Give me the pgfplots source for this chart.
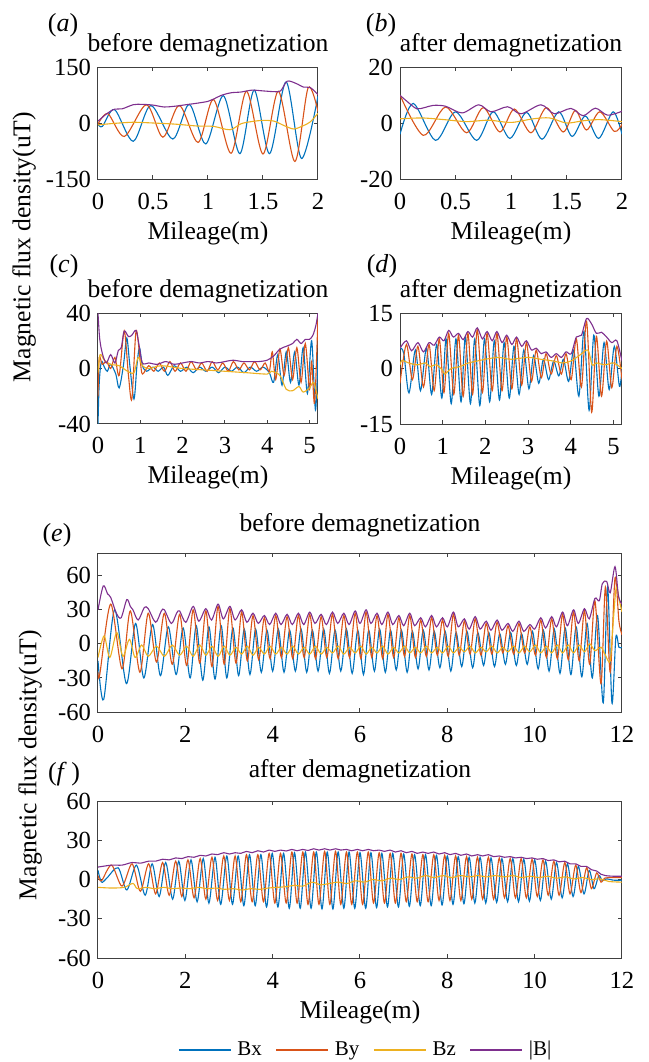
\documentclass[border=0pt]{standalone}
\usepackage{fontspec}
\setmainfont{Liberation Serif}
\usepackage{pgfplots}
\pgfplotsset{compat=1.18}
\definecolor{cBx}{rgb}{0,0.447,0.741}
\definecolor{cBy}{rgb}{0.85,0.325,0.098}
\definecolor{cBz}{rgb}{0.929,0.694,0.125}
\definecolor{cB}{rgb}{0.494,0.184,0.556}
\pgfplotsset{
  panel/.style={
    scale only axis,
    axis line style={black!75, line width=0.5pt},
    every tick/.style={black!75, line width=0.5pt},
    tick align=inside,
    major tick length=2pt,
    enlargelimits=false,
    /pgf/number format/assume math mode=true,
    tick label style={font=\fontsize{12.3}{14}\selectfont},
    xticklabel style={anchor=base, yshift=-15pt},
    xlabel style={font=\fontsize{12.8}{15}\selectfont, at={(0.5,0)}, anchor=base, yshift=-30pt},
    title style={font=\fontsize{12.8}{15}\selectfont, at={(0.5,1)}, anchor=base, yshift=2pt, inner sep=0pt},
    xlabel={Mileage(m)},
    every axis plot/.append style={smooth, line width=0.55pt, no markers},
  },
}
\begin{document}
\begin{tikzpicture}
\useasboundingbox (0,0) rectangle (324.5pt,-531pt);
\tikzset{lab/.style={font=\fontsize{13}{15}\selectfont, inner sep=0pt}}
\node[lab] at (31.5pt,-12.5pt) {(\textit{a})};
\node[lab] at (190.5pt,-12.5pt) {(\textit{b})};
\node[lab] at (32pt,-133pt) {(\textit{c})};
\node[lab] at (191pt,-133pt) {(\textit{d})};
\node[lab] at (28.5pt,-267.5pt) {(\textit{e})};
\node[lab] at (32pt,-387pt) {(\textit{f}\,)};
\node[rotate=90, font=\fontsize{12.8}{15}\selectfont, inner sep=0pt] at (12pt,-123.5pt) {Magnetic flux density(uT)};
\node[rotate=90, font=\fontsize{12.8}{15}\selectfont, inner sep=0pt] at (15pt,-382.5pt) {Magnetic flux density(uT)};

% ---------------- (a)
\begin{axis}[panel, at={(49pt,-33.5pt)}, anchor=north west, width=110pt, height=56pt,
  xmin=0, xmax=2, ymin=-150, ymax=150, xtick={0,0.5,1,1.5,2}, ytick={-150,0,150},
  title={before demagnetization}]
\addplot[cBx] coordinates {(0,-3) (0.04,-9) (0.15,36) (0.32,-49) (0.48,47) (0.68,-43) (0.83,50) (0.98,-56) (1.14,73) (1.29,-82) (1.42,88) (1.56,-82) (1.71,110) (1.85,-95) (2.0,72)};
\addplot[cBy] coordinates {(0,-3) (0.09,25) (0.24,-36) (0.44,49) (0.59,-38) (0.74,47) (0.91,-52) (1.05,63) (1.21,-81) (1.35,85) (1.5,-83) (1.64,85) (1.79,-103) (1.91,94) (2.0,31)};
\addplot[cBz] coordinates {(0,-5) (0.15,-1) (0.32,2) (0.5,0) (0.7,-3) (0.9,-8) (1.05,-9) (1.2,-18) (1.3,-2) (1.4,4) (1.5,7) (1.6,5) (1.7,-8) (1.78,-16) (1.86,-8) (1.93,3) (2.0,26)};
\addplot[cB] coordinates {(0,5) (0.08,25) (0.15,37) (0.22,38) (0.32,49) (0.4,50) (0.5,48) (0.6,43) (0.7,45) (0.8,49) (0.9,53) (1.0,58) (1.05,64) (1.12,74) (1.21,81) (1.3,83) (1.4,88) (1.5,86) (1.6,84) (1.66,86) (1.72,112) (1.8,106) (1.87,96) (1.93,95) (2.0,76)};
\end{axis}

% ---------------- (b)
\begin{axis}[panel, at={(200pt,-33.5pt)}, anchor=north west, width=111pt, height=56pt,
  xmin=0, xmax=2, ymin=-20, ymax=20, xtick={0,0.5,1,1.5,2}, ytick={-20,0,20},
  title={after demagnetization}]
\addplot[cBx] coordinates {(0,-4) (0.12,7) (0.32,-6.2) (0.5,4) (0.69,-6.2) (0.84,4) (0.99,-5.5) (1.14,3.8) (1.28,-5.8) (1.43,4) (1.55,-4.8) (1.67,2.5) (1.79,-5.5) (1.92,4) (2.0,-4)};
\addplot[cBy] coordinates {(0,10) (0.21,-4.4) (0.41,5.7) (0.6,-3.5) (0.75,5.5) (0.9,-3.2) (1.03,5) (1.18,-3.5) (1.32,5.5) (1.47,-3.2) (1.58,4.5) (1.68,-2.5) (1.8,4) (1.93,-3) (2.0,-0.5)};
\addplot[cBz] coordinates {(0,1.5) (0.2,1.8) (0.4,1.2) (0.6,0.5) (0.8,1) (1.0,0.2) (1.2,1.5) (1.35,1.8) (1.5,0) (1.65,0.8) (1.8,1.2) (2.0,0.5)};
\addplot[cB] coordinates {(0,9.9) (0.07,7.5) (0.15,5.1) (0.22,5.5) (0.3,6.3) (0.41,6) (0.56,3.6) (0.71,6.5) (0.82,4) (0.97,5.8) (1.09,3.3) (1.27,6.5) (1.39,3.3) (1.54,5.2) (1.65,2.6) (1.76,5.3) (1.87,2.8) (2.0,4.2)};
\end{axis}

% ---------------- (c)
\begin{axis}[panel, at={(49pt,-156.5pt)}, anchor=north west, width=110pt, height=55.5pt,
  xmin=0, xmax=5.2, ymin=-40, ymax=40, xtick={0,1,2,3,4,5}, ytick={-40,0,40},
  title={before demagnetization}]
\addplot[cBx] coordinates {(0,-40) (0.03,-10) (0.08,5) (0.15,1) (0.22,-2) (0.3,3) (0.42,-4) (0.5,-14) (0.6,2) (0.68,22) (0.75,3) (0.85,-22) (0.92,2) (0.98,15) (1.05,2) (1.15,-2) (1.3,1) (1.42,-2) (1.55,1) (1.65,-5) (1.8,2) (1.95,-2) (2.1,1) (2.25,-3) (2.4,1) (2.55,-2) (2.7,1) (2.85,-3) (3.0,1) (3.15,-2) (3.3,1) (3.45,-3) (3.6,1) (3.75,-2) (3.9,1) (4.05,-3) (4.15,-10) (4.25,10) (4.35,-12) (4.45,12) (4.55,-10) (4.65,12) (4.75,-12) (4.85,15) (4.95,-18) (5.05,20) (5.14,-30) (5.2,10)};
\addplot[cBy] coordinates {(0,-20) (0.03,8) (0.1,3) (0.2,5) (0.3,0) (0.4,8) (0.5,-5) (0.62,27) (0.72,-5) (0.8,-22) (0.9,27) (1.0,5) (1.05,-4) (1.2,2) (1.32,-2) (1.45,4) (1.57,-2) (1.7,5) (1.82,-2) (1.95,4) (2.08,-2) (2.2,5) (2.33,-1) (2.45,4) (2.58,-2) (2.7,5) (2.83,-1) (2.95,4) (3.08,-2) (3.2,5) (3.33,-1) (3.45,4) (3.58,-1) (3.7,5) (3.83,-1) (3.95,4) (4.05,-2) (4.12,12) (4.2,-8) (4.3,14) (4.4,-5) (4.5,15) (4.6,-8) (4.7,15) (4.8,-10) (4.9,18) (5.0,-15) (5.05,5) (5.12,-25) (5.2,38)};
\addplot[cBz] coordinates {(0,-3) (0.05,10) (0.15,6) (0.3,3) (0.5,2) (0.7,-2) (0.85,-3) (0.95,8) (1.05,2) (1.2,0) (1.5,2) (2.0,0) (2.5,-1) (3.0,-2) (3.5,-3) (4.0,-4) (4.1,-2) (4.3,-5) (4.45,-15) (4.6,-16) (4.75,-13) (4.85,-17) (5.0,-14) (5.1,-10) (5.2,-22)};
\addplot[cB] coordinates {(0,40) (0.03,25) (0.06,17) (0.12,9) (0.2,4) (0.3,10) (0.4,4) (0.48,13) (0.55,15) (0.62,27) (0.72,23) (0.8,24) (0.9,27.5) (0.97,17) (1.05,4) (1.2,4) (1.4,3) (1.6,5) (1.8,3) (2.0,4) (2.2,5) (2.4,4) (2.6,5) (2.8,4) (3.0,5) (3.2,6) (3.4,5) (3.6,5) (3.8,5) (4.0,6) (4.15,9) (4.3,14) (4.45,16) (4.6,18) (4.7,21) (4.8,18) (4.9,21) (5.0,21) (5.08,24) (5.15,31) (5.2,40)};
\end{axis}

% ---------------- (d)
\begin{axis}[panel, at={(200pt,-156.5pt)}, anchor=north west, width=111pt, height=55.5pt,
  xmin=0, xmax=5.2, ymin=-15, ymax=15, xtick={0,1,2,3,4,5}, ytick={-15,0,15},
  title={after demagnetization}]
\addplot[cBx] coordinates {(0,5.6) (0.09,4) (0.21,-6.6) (0.36,5) (0.48,-6) (0.62,5.5) (0.74,-7) (0.86,6.5) (0.98,-8) (1.08,8) (1.2,-9.5) (1.31,8) (1.43,-9) (1.53,8.5) (1.65,-9.5) (1.75,8) (1.87,-10) (1.98,8) (2.1,-9) (2.21,7.5) (2.33,-8.5) (2.44,7) (2.56,-8) (2.67,6) (2.79,-7) (2.9,5) (3.02,-5.5) (3.13,3.5) (3.25,-4) (3.36,2.5) (3.48,-3) (3.6,2) (3.72,-2) (3.83,2.5) (3.95,-3.5) (4.07,5) (4.19,-7.5) (4.31,10) (4.43,-11.3) (4.54,9) (4.66,-7.5) (4.78,7) (4.9,-5.7) (5.02,6) (5.14,-4.8) (5.2,0)};
\addplot[cBy] coordinates {(0,-4) (0.15,6.5) (0.29,-3) (0.42,6) (0.55,-5) (0.68,6.5) (0.8,-6) (0.92,8) (1.03,-6.5) (1.14,9.5) (1.26,-7) (1.37,9) (1.48,-7.5) (1.59,9.5) (1.7,-7) (1.81,10.5) (1.93,-6.5) (2.04,9.5) (2.16,-6) (2.27,9.5) (2.39,-6) (2.5,8.5) (2.62,-5.5) (2.73,8) (2.85,-4.5) (2.96,7) (3.08,-3.5) (3.19,5) (3.31,-2.5) (3.42,4) (3.54,-1.5) (3.66,3.5) (3.78,-1.5) (3.89,4) (4.01,-3) (4.13,8) (4.25,-5) (4.37,12.8) (4.49,-11.8) (4.6,8.7) (4.72,-7.5) (4.84,7.4) (4.96,-5.2) (5.08,6) (5.2,-3)};
\addplot[cBz] coordinates {(0,1) (0.05,2.2) (0.2,1.5) (0.4,1) (0.6,1.5) (0.7,0.5) (0.85,1) (1.0,-0.5) (1.05,-1.5) (1.2,0) (1.4,0.5) (1.6,1.5) (1.8,2) (2.0,2.5) (2.3,3) (2.6,2.5) (3.0,3) (3.3,2.5) (3.6,2) (3.8,1.5) (4.0,2) (4.2,3.5) (4.4,5) (4.5,1) (4.6,1.5) (4.8,1) (5.0,1.5) (5.2,0)};
\addplot[cB] coordinates {(0,5.5) (0.15,7.5) (0.27,4.8) (0.42,7) (0.55,4.5) (0.68,7) (0.8,6.3) (0.92,8.5) (1.03,7.5) (1.14,10.3) (1.25,8.5) (1.37,9.5) (1.48,7.8) (1.59,10) (1.7,8.5) (1.81,11) (1.93,8) (2.04,10) (2.16,7.5) (2.27,10) (2.39,7) (2.5,9) (2.62,6.5) (2.73,8.5) (2.85,6) (2.96,7.5) (3.08,5) (3.19,5.5) (3.31,4) (3.42,4.5) (3.54,3) (3.66,4) (3.78,3) (3.89,4.5) (4.01,4) (4.13,8.5) (4.25,9) (4.37,13.5) (4.49,12) (4.6,9.5) (4.72,9.8) (4.84,8.5) (4.96,7) (5.08,7.5) (5.2,2)};
\end{axis}

% ---------------- (e)
\begin{axis}[panel, at={(49pt,-276.5pt)}, anchor=north west, width=262pt, height=79.5pt,
  xmin=0, xmax=12, ymin=-60, ymax=80, xtick={0,2,4,6,8,10,12}, ytick={-60,-30,0,30,60},
  title style={yshift=3pt}, xlabel={}, title={before demagnetization}]
\addplot[cBx] coordinates {(0,-15) (0.13,-49) (0.38,30) (0.65,-35) (0.86,18) (1.05,-30) (1.25,17) (1.43,-28) (1.61,15) (1.79,-27) (1.95,14) (2.11,-30) (2.25,16) (2.40,-32) (2.54,15) (2.68,-31) (2.82,16) (2.95,-30) (3.09,14) (3.22,-28) (3.35,13) (3.48,-27) (3.61,13) (3.74,-25) (3.87,12) (4.00,-24) (4.13,13) (4.26,-25) (4.39,12) (4.52,-24) (4.65,13) (4.78,-25) (4.91,12) (5.04,-24) (5.17,13) (5.30,-26) (5.43,12) (5.56,-24) (5.69,13) (5.82,-26) (5.95,12) (6.08,-27) (6.20,12) (6.33,-24) (6.45,13) (6.58,-25) (6.70,12) (6.83,-23) (6.95,12) (7.08,-25) (7.20,11) (7.33,-22) (7.45,12) (7.58,-23) (7.70,11) (7.83,-21) (7.95,11) (8.08,-24) (8.20,10) (8.33,-20) (8.45,11) (8.58,-21) (8.70,10) (8.83,-19) (8.95,10) (9.08,-20) (9.20,9) (9.33,-18) (9.45,10) (9.58,-19) (9.70,9) (9.83,-18) (9.95,11) (10.08,-22) (10.20,12) (10.33,-24) (10.45,13) (10.58,-26) (10.70,14) (10.83,-27) (10.95,15) (11.08,-29) (11.20,18) (11.32,-30) (11.44,25) (11.57,-52) (11.67,50) (11.77,-52) (11.86,6) (11.93,-3) (12,-3)};
\addplot[cBy] coordinates {(0,-25) (0.04,-27) (0.29,35) (0.55,-22) (0.74,29) (0.96,-25) (1.15,27) (1.34,-16) (1.52,27) (1.70,-18) (1.87,26) (2.03,-19) (2.18,30) (2.33,-17) (2.47,29) (2.61,-20) (2.75,33) (2.89,-18) (3.02,31) (3.16,-17) (3.29,28) (3.42,-15) (3.55,25) (3.68,-14) (3.81,23) (3.94,-13) (4.07,25) (4.20,-12) (4.33,24) (4.46,-13) (4.59,25) (4.72,-12) (4.85,26) (4.98,-13) (5.11,24) (5.24,-12) (5.37,26) (5.50,-13) (5.63,25) (5.76,-12) (5.89,27) (6.02,-13) (6.14,28) (6.27,-12) (6.39,25) (6.52,-13) (6.64,26) (6.77,-12) (6.89,23) (7.02,-11) (7.14,25) (7.27,-12) (7.39,21) (7.52,-11) (7.64,23) (7.77,-10) (7.89,21) (8.02,-11) (8.14,26) (8.27,-10) (8.39,20) (8.52,-9) (8.64,22) (8.77,-10) (8.89,18) (9.02,-9) (9.14,19) (9.27,-8) (9.39,16) (9.52,-9) (9.64,18) (9.77,-8) (9.89,15) (10.02,-10) (10.14,21) (10.27,-12) (10.39,22) (10.52,-13) (10.64,26) (10.77,-14) (10.89,28) (11.02,-15) (11.14,29) (11.26,-18) (11.38,38) (11.52,-35) (11.62,50) (11.73,-25) (11.84,58) (11.93,20) (12,8)};
\addplot[cBz] coordinates {(0,-12) (0.14,7) (0.27,-12) (0.43,10) (0.57,-11) (0.72,4) (0.85,-12) (1.0,-1) (1.15,-11) (1.34,-2) (1.52,-11) (1.70,-1) (1.87,-10) (2.03,-2) (2.18,-11) (2.33,-1) (2.47,-10) (2.61,-2) (2.75,-11) (2.89,-2) (3.02,-10) (3.16,-3) (3.29,-9) (3.42,-2) (3.55,-10) (3.68,-3) (3.81,-9) (3.94,-2) (4.07,-9) (4.20,-3) (4.33,-9) (4.46,-2) (4.59,-9) (4.72,-3) (4.85,-9) (4.98,-2) (5.11,-9) (5.24,-3) (5.37,-8) (5.50,-2) (5.63,-9) (5.76,-3) (5.89,-8) (6.02,-2) (6.14,-9) (6.27,-3) (6.39,-8) (6.52,-2) (6.64,-9) (6.77,-3) (6.89,-8) (7.02,-2) (7.14,-8) (7.27,-3) (7.39,-8) (7.52,-2) (7.64,-8) (7.77,-3) (7.89,-8) (8.02,-2) (8.14,-8) (8.27,-3) (8.39,-7) (8.52,-2) (8.64,-8) (8.77,-3) (8.89,-7) (9.02,-2) (9.14,-8) (9.27,-3) (9.39,-7) (9.52,-2) (9.64,-8) (9.77,-2) (9.89,-7) (10.02,-1) (10.14,-8) (10.27,-2) (10.39,-8) (10.52,-1) (10.64,-8) (10.77,-1) (10.89,-8) (11.02,-1) (11.14,-7) (11.26,0) (11.38,-6) (11.52,-3) (11.62,-10) (11.73,-15) (11.80,20) (11.87,50) (11.94,38) (12,28)};
\addplot[cB] coordinates {(0,30) (0.12,51) (0.22,44) (0.29,41) (0.42,27) (0.53,23) (0.66,39) (0.74,33) (0.8,30) (0.92,21) (1.06,32) (1.15,31) (1.32,19) (1.45,29) (1.52,30) (1.68,18) (1.80,27) (1.87,29) (2.01,19) (2.18,33) (2.31,20) (2.47,31) (2.60,21) (2.75,35) (2.87,22) (3.02,33) (3.14,21) (3.29,30) (3.41,19) (3.55,27) (3.67,18) (3.81,25) (3.93,17) (4.07,27) (4.19,17) (4.33,26) (4.45,17) (4.59,27) (4.71,17) (4.85,28) (4.97,18) (5.11,26) (5.23,17) (5.37,28) (5.49,18) (5.63,27) (5.75,17) (5.89,29) (6.00,18) (6.14,30) (6.25,18) (6.39,27) (6.50,17) (6.64,28) (6.75,17) (6.89,25) (7.00,16) (7.14,27) (7.25,16) (7.39,23) (7.50,15) (7.64,25) (7.75,15) (7.89,23) (8.00,15) (8.14,28) (8.25,15) (8.39,22) (8.50,13) (8.64,24) (8.75,13) (8.89,20) (9.00,12) (9.14,21) (9.25,12) (9.39,18) (9.50,11) (9.64,20) (9.75,11) (9.89,17) (10.00,13) (10.14,23) (10.25,14) (10.39,24) (10.50,15) (10.64,28) (10.75,16) (10.89,30) (11.00,18) (11.14,31) (11.25,22) (11.38,40) (11.48,38) (11.55,53) (11.65,55) (11.73,45) (11.84,68) (11.92,42) (12,35)};
\end{axis}

% ---------------- (f)
\begin{axis}[panel, at={(49pt,-400.5pt)}, anchor=north west, width=262pt, height=78.5pt,
  xmin=0, xmax=12, ymin=-60, ymax=60, xtick={0,2,4,6,8,10,12}, ytick={-60,-30,0,30,60},
  title style={yshift=3.8pt}, title={after demagnetization},
  legend style={at={(0.513,-0.586)}, anchor=center, draw=none, fill=none, legend columns=4,
    font=\fontsize{10.5}{12}\selectfont, inner sep=0pt,
    /tikz/every odd column/.append style={column sep=1pt},
    /tikz/every even column/.append style={column sep=5pt}},
  legend image code/.code={\draw[#1, line width=0.55pt] (0pt,0pt) -- (26pt,0pt);}]
\addplot[cBx] coordinates {(0,7) (0.08,-2) (0.2,1) (0.46,9) (0.66,-8) (0.88,11) (1.08,-12) (1.24,12) (1.40,-13) (1.55,13) (1.71,-15) (1.85,14) (1.99,-16) (2.13,15) (2.27,-17) (2.41,16) (2.54,-18) (2.68,17) (2.81,-19) (2.95,18) (3.08,-19) (3.21,18) (3.34,-20) (3.47,19) (3.60,-20) (3.73,19) (3.86,-21) (3.99,20) (4.12,-21) (4.25,20) (4.38,-22) (4.50,20.5) (4.63,-22) (4.75,21) (4.88,-22) (5.00,21) (5.13,-22.5) (5.25,21) (5.38,-22.5) (5.50,21) (5.63,-22) (5.75,21) (5.88,-22) (6.00,20.5) (6.13,-22) (6.25,20.5) (6.38,-21.5) (6.50,20) (6.63,-21) (6.75,20) (6.88,-21) (7.00,19.5) (7.13,-20.5) (7.25,19) (7.38,-20) (7.50,19) (7.63,-20) (7.75,18.5) (7.88,-19.5) (8.00,18) (8.13,-19) (8.25,17.5) (8.38,-18.5) (8.50,17) (8.63,-18) (8.75,17) (8.88,-18) (9.00,16.5) (9.13,-17.5) (9.25,16) (9.38,-17) (9.50,16) (9.63,-17) (9.75,15.5) (9.88,-16.5) (10.00,15) (10.13,-16) (10.25,14) (10.38,-15) (10.50,13) (10.63,-14) (10.75,12) (10.88,-13) (11.00,10) (11.13,-11) (11.25,7) (11.36,-7) (11.47,3) (11.55,-1) (11.65,0.5) (11.8,-0.5) (12,-0.5)};
\addlegendentry{Bx}
\addplot[cBy] coordinates {(0,3) (0.08,-1) (0.31,11) (0.55,-5) (0.78,12) (0.97,-9) (1.16,12) (1.32,-11) (1.48,13) (1.63,-12) (1.78,14) (1.92,-13) (2.06,15) (2.20,-14) (2.34,16) (2.47,-15) (2.61,17) (2.74,-16) (2.88,18) (3.01,-16) (3.14,18) (3.27,-17) (3.40,19) (3.53,-17) (3.66,19) (3.79,-17) (3.92,20) (4.05,-18) (4.18,20) (4.31,-18) (4.44,21) (4.56,-18) (4.69,21) (4.81,-19) (4.94,21) (5.06,-19) (5.19,21.5) (5.31,-19) (5.44,21.5) (5.56,-19) (5.69,21) (5.81,-19) (5.94,21) (6.06,-19) (6.19,21) (6.31,-18) (6.44,20.5) (6.56,-18) (6.69,20) (6.81,-18) (6.94,20) (7.06,-17) (7.19,19.5) (7.31,-17) (7.44,19) (7.56,-17) (7.69,19) (7.81,-16) (7.94,18.5) (8.06,-16) (8.19,18) (8.31,-16) (8.44,17.5) (8.56,-15) (8.69,17) (8.81,-15) (8.94,17) (9.06,-15) (9.19,16.5) (9.31,-14) (9.44,16) (9.56,-14) (9.69,16) (9.81,-14) (9.94,15.5) (10.06,-13) (10.19,15) (10.31,-12) (10.44,14) (10.56,-12) (10.69,13) (10.81,-11) (10.94,11) (11.06,-10) (11.19,9) (11.30,-7) (11.42,5) (11.52,-2) (11.60,1) (11.8,1.5) (12,1.5)};
\addlegendentry{By}
\addplot[cBz] coordinates {(0,-6) (0.3,-6.5) (0.6,-6) (0.8,-3) (0.9,-7) (1.1,-6) (1.3,-7) (1.5,-6) (1.7,-7) (1.9,-6.5) (2.1,-7) (2.3,-6) (2.5,-7) (2.7,-6.5) (2.9,-7.5) (3.1,-7) (3.3,-8) (3.5,-7) (3.7,-7.5) (3.9,-6.5) (4.1,-6) (4.3,-5.5) (4.5,-4.5) (4.7,-5) (4.9,-2) (5.1,-4) (5.3,-3) (5.5,-2) (5.7,-3) (5.9,-1) (6.1,-2) (6.3,0) (6.5,-1) (6.7,1) (6.9,0) (7.1,2) (7.3,1) (7.5,3) (7.7,1.5) (7.9,3) (8.1,1.5) (8.3,3) (8.5,2) (8.7,3) (8.9,2) (9.1,3) (9.3,2) (9.5,3) (9.7,1.5) (9.9,2.5) (10.1,1.5) (10.3,2.5) (10.5,1) (10.7,2) (10.9,0.5) (11.1,1.5) (11.3,0) (11.5,0.5) (11.7,-1.5) (12,-2)};
\addlegendentry{Bz}
\addplot[cB] coordinates {(0,9.5) (0.31,11) (0.55,11) (0.78,13) (0.97,12.5) (1.16,14) (1.32,14) (1.48,15.5) (1.63,15) (1.78,16.5) (1.92,16) (2.06,17.5) (2.20,17) (2.34,18.5) (2.47,18) (2.61,19.5) (2.74,19) (2.88,20.5) (3.01,19.5) (3.14,20.5) (3.27,20) (3.40,21.5) (3.53,20.5) (3.66,22) (3.79,21) (3.92,22.5) (4.05,21.5) (4.18,22.5) (4.31,21.8) (4.44,23) (4.56,22) (4.69,23) (4.81,22.2) (4.94,23.5) (5.06,22.5) (5.19,23.5) (5.31,22.5) (5.44,23.5) (5.56,22.5) (5.69,23) (5.81,22) (5.94,23) (6.06,22) (6.19,23) (6.31,22) (6.44,22.5) (6.56,21.5) (6.69,22.5) (6.81,21) (6.94,22) (7.06,20.5) (7.19,21.5) (7.31,20) (7.44,21) (7.56,20) (7.69,21) (7.81,19.5) (7.94,20.5) (8.06,19) (8.19,20) (8.31,18.5) (8.44,19.5) (8.56,18) (8.69,19) (8.81,18) (8.94,19) (9.06,17.5) (9.19,18) (9.31,17) (9.44,17.5) (9.56,16.5) (9.69,17) (9.81,16) (9.94,16.5) (10.06,15.5) (10.19,16) (10.31,14.5) (10.44,15) (10.56,13.5) (10.69,14) (10.81,12) (10.94,12) (11.06,10) (11.19,10) (11.30,7.5) (11.42,6.5) (11.52,4) (11.62,3) (11.8,2.5) (12,2.5)};
\addlegendentry{|B|}
\end{axis}
\end{tikzpicture}
\end{document}
